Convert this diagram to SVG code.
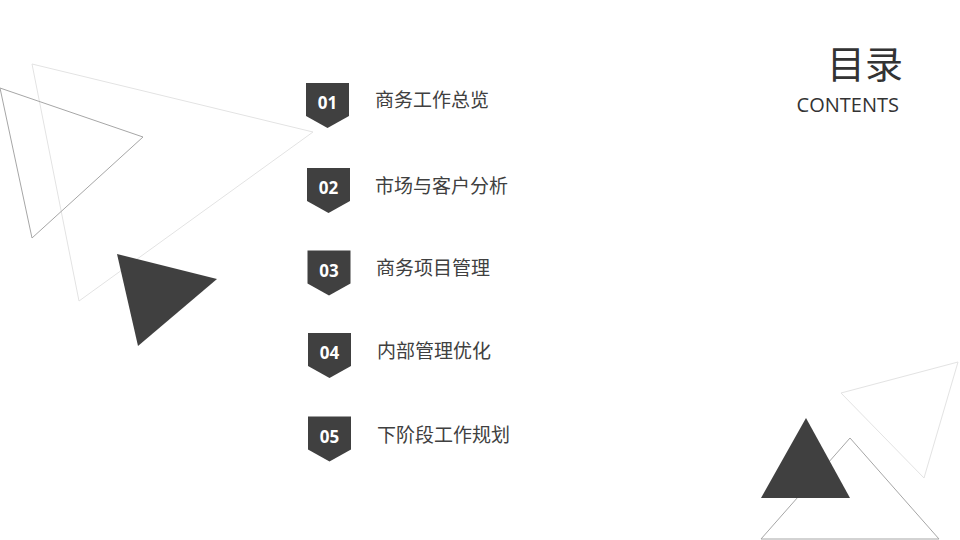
<svg xmlns="http://www.w3.org/2000/svg" width="960" height="540" viewBox="0 0 960 540">
<style>
.num{font-family:"Open Sans","Liberation Sans",sans-serif;font-weight:700;font-size:17px;fill:#ffffff;text-anchor:middle}
.lbl{font-family:"Noto Sans CJK SC","Noto Sans",sans-serif;font-size:19px;fill:#404040}
.badge{fill:#404040}
.dark{fill:#404040}
.ol{fill:none;stroke:#a6a6a6;stroke-width:1}
.ll{fill:none;stroke:#e3e3e3;stroke-width:1}
</style>
<defs>
<path id="b" d="M0,0 H43 V33 L21.5,45 L0,33 Z"/>
</defs>
<rect width="960" height="540" fill="#ffffff"/>
<g id="decor-left">
<polygon class="ll" points="32,64 313,132 79,301"/>
<polygon class="ol" points="0,88 143,137 32,238"/>
<polygon class="dark" points="117,254 217,279 138,346"/>
</g>
<g id="decor-right">
<polygon class="ll" points="841,393 958,362 924,478"/>
<polygon class="ol" points="850,438 761,539 939,539"/>
<polygon class="dark" points="806,418 761,498 850,498"/>
</g>
<g id="title">
<text x="903" y="78" text-anchor="end" font-family="Noto Sans CJK SC,sans-serif" font-size="38" fill="#333333">目录</text>
<text x="899" y="112" text-anchor="end" font-family="Open Sans,Liberation Sans,sans-serif" font-size="20" fill="#333333">CONTENTS</text>
</g>
<g id="item1">
<use href="#b" class="badge" x="306" y="83"/>
<text class="num" x="327.5" y="109">01</text>
<text class="lbl" x="375" y="107">商务工作总览</text>
</g>
<g id="item2">
<use href="#b" class="badge" x="307" y="168"/>
<text class="num" x="328.5" y="194">02</text>
<text class="lbl" x="375" y="193">市场与客户分析</text>
</g>
<g id="item3">
<use href="#b" class="badge" x="307.5" y="250.5"/>
<text class="num" x="329" y="276.5">03</text>
<text class="lbl" x="376" y="275">商务项目管理</text>
</g>
<g id="item4">
<use href="#b" class="badge" x="308" y="333"/>
<text class="num" x="329.5" y="359">04</text>
<text class="lbl" x="377" y="358">内部管理优化</text>
</g>
<g id="item5">
<use href="#b" class="badge" x="308" y="416.5"/>
<text class="num" x="329.5" y="442.5">05</text>
<text class="lbl" x="377" y="442">下阶段工作规划</text>
</g>
<g id="connectors"></g>
</svg>
